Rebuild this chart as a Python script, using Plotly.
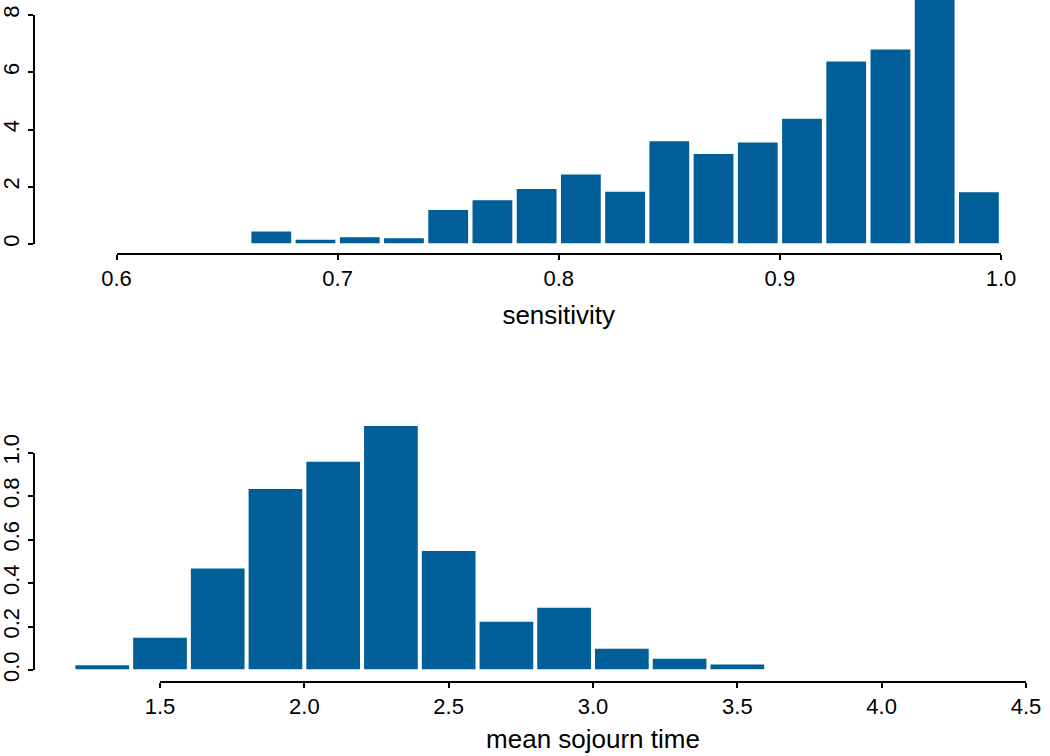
import plotly.graph_objects as go

# ---- data: sensitivity histogram (density) ----
sens_bin_left = [0.66, 0.68, 0.70, 0.72, 0.74, 0.76, 0.78, 0.80, 0.82, 0.84,
                 0.86, 0.88, 0.90, 0.92, 0.94, 0.96, 0.98]
sens_density = [0.42, 0.13, 0.22, 0.18, 1.17, 1.51, 1.90, 2.41, 1.81, 3.57,
                3.13, 3.53, 4.36, 6.36, 6.78, 9.00, 1.79]
sens_bin_width = 0.02
sens_ticks = [0.6, 0.7, 0.8, 0.9, 1.0]
sens_ticklabels = ["0.6", "0.7", "0.8", "0.9", "1.0"]
sens_yticks = [0, 2, 4, 6, 8]

# ---- data: mean sojourn time histogram (density) ----
mst_bin_left = [1.2, 1.4, 1.6, 1.8, 2.0, 2.2, 2.4, 2.6, 2.8, 3.0, 3.2, 3.4]
mst_density = [0.02, 0.146, 0.464, 0.83, 0.955, 1.12, 0.545, 0.219, 0.284,
               0.095, 0.049, 0.023]
mst_bin_width = 0.2
mst_ticks = [1.5, 2.0, 2.5, 3.0, 3.5, 4.0, 4.5]
mst_ticklabels = ["1.5", "2.0", "2.5", "3.0", "3.5", "4.0", "4.5"]
mst_yticks = [0.0, 0.2, 0.4, 0.6, 0.8, 1.0]
mst_yticklabels = ["0.0", "0.2", "0.4", "0.6", "0.8", "1.0"]

W, H = 1050, 756
BAR = "#005E98"
FONT = "Liberation Sans, Arial, Helvetica, sans-serif"
TICKFONT = dict(family=FONT, size=22, color="black")
TITLEFONT = dict(family=FONT, size=26, color="black")


def px(v):
    return v / W


def py(v):
    return 1 - v / H


fig = go.Figure()

# top histogram bars
fig.add_trace(go.Bar(
    x=[l + sens_bin_width / 2 for l in sens_bin_left], y=sens_density,
    width=sens_bin_width * 0.9, marker=dict(color=BAR, line=dict(width=0)),
    xaxis="x", yaxis="y", showlegend=False, hoverinfo="x+y"))
# dummy trace for the displayed top y axis
fig.add_trace(go.Scatter(x=[None], y=[None], xaxis="x", yaxis="y3",
                         showlegend=False, hoverinfo="skip"))

# bottom histogram bars
fig.add_trace(go.Bar(
    x=[l + mst_bin_width / 2 for l in mst_bin_left], y=mst_density,
    width=mst_bin_width * 0.93, marker=dict(color=BAR, line=dict(width=0)),
    xaxis="x2", yaxis="y2", showlegend=False, hoverinfo="x+y"))
# dummy trace for displayed bottom axes
fig.add_trace(go.Scatter(x=[None], y=[None], xaxis="x4", yaxis="y4",
                         showlegend=False, hoverinfo="skip"))

axis_common = dict(showline=True, linewidth=2, linecolor="black",
                   ticks="outside", ticklen=5, tickwidth=2, tickcolor="black",
                   showgrid=False, zeroline=False, tickfont=TICKFONT,
                   fixedrange=True, automargin=False)

top_px_per_unit = (244 - 15) / 8.0
bot_px_per_unit = (670 - 452.5) / 1.0

fig.update_layout(
    width=W, height=H, autosize=False,
    margin=dict(l=0, r=0, t=0, b=0, pad=0, autoexpand=False),
    paper_bgcolor="white", plot_bgcolor="rgba(0,0,0,0)",
    font=dict(family=FONT, color="black"),
    # top: data + displayed x axis
    xaxis=dict(domain=[px(116.5), px(1001)], range=[0.6, 1.0],
               anchor="free", position=py(254),
               tickvals=sens_ticks, ticktext=sens_ticklabels,
               title=dict(text="sensitivity", font=TITLEFONT, standoff=14),
               **axis_common),
    yaxis=dict(domain=[py(243.5), 1], range=[0, 243.5 / top_px_per_unit],
               visible=False, fixedrange=True, automargin=False),
    yaxis3=dict(domain=[py(244), py(15)], range=[0, 8], anchor="free",
                position=px(33.5), tickvals=sens_yticks,
                ticktext=[str(v) for v in sens_yticks], tickangle=-90,
                **axis_common),
    # bottom: data axes (hidden)
    xaxis2=dict(domain=[px(160 - 0.3 * 288.7), px(1026)], range=[1.2, 4.5],
                visible=False, anchor="y2", fixedrange=True, automargin=False),
    yaxis2=dict(domain=[py(669.5), py(400)],
                range=[0, (669.5 - 400) / bot_px_per_unit],
                visible=False, anchor="x2", fixedrange=True, automargin=False),
    # bottom: displayed axes
    xaxis4=dict(domain=[px(160), px(1026)], range=[1.5, 4.5],
                anchor="free", position=py(682),
                tickvals=mst_ticks, ticktext=mst_ticklabels,
                title=dict(text="mean sojourn time", font=TITLEFONT, standoff=10),
                **axis_common),
    yaxis4=dict(domain=[py(670), py(452.5)], range=[0, 1], anchor="free",
                position=px(33.5), tickvals=mst_yticks,
                ticktext=mst_yticklabels, tickangle=-90, **axis_common),
)

fig.write_html("out.html",
               config={"displayModeBar": False},
               post_script="document.body.style.margin='0px';"
                           "document.body.style.overflow='hidden';")
